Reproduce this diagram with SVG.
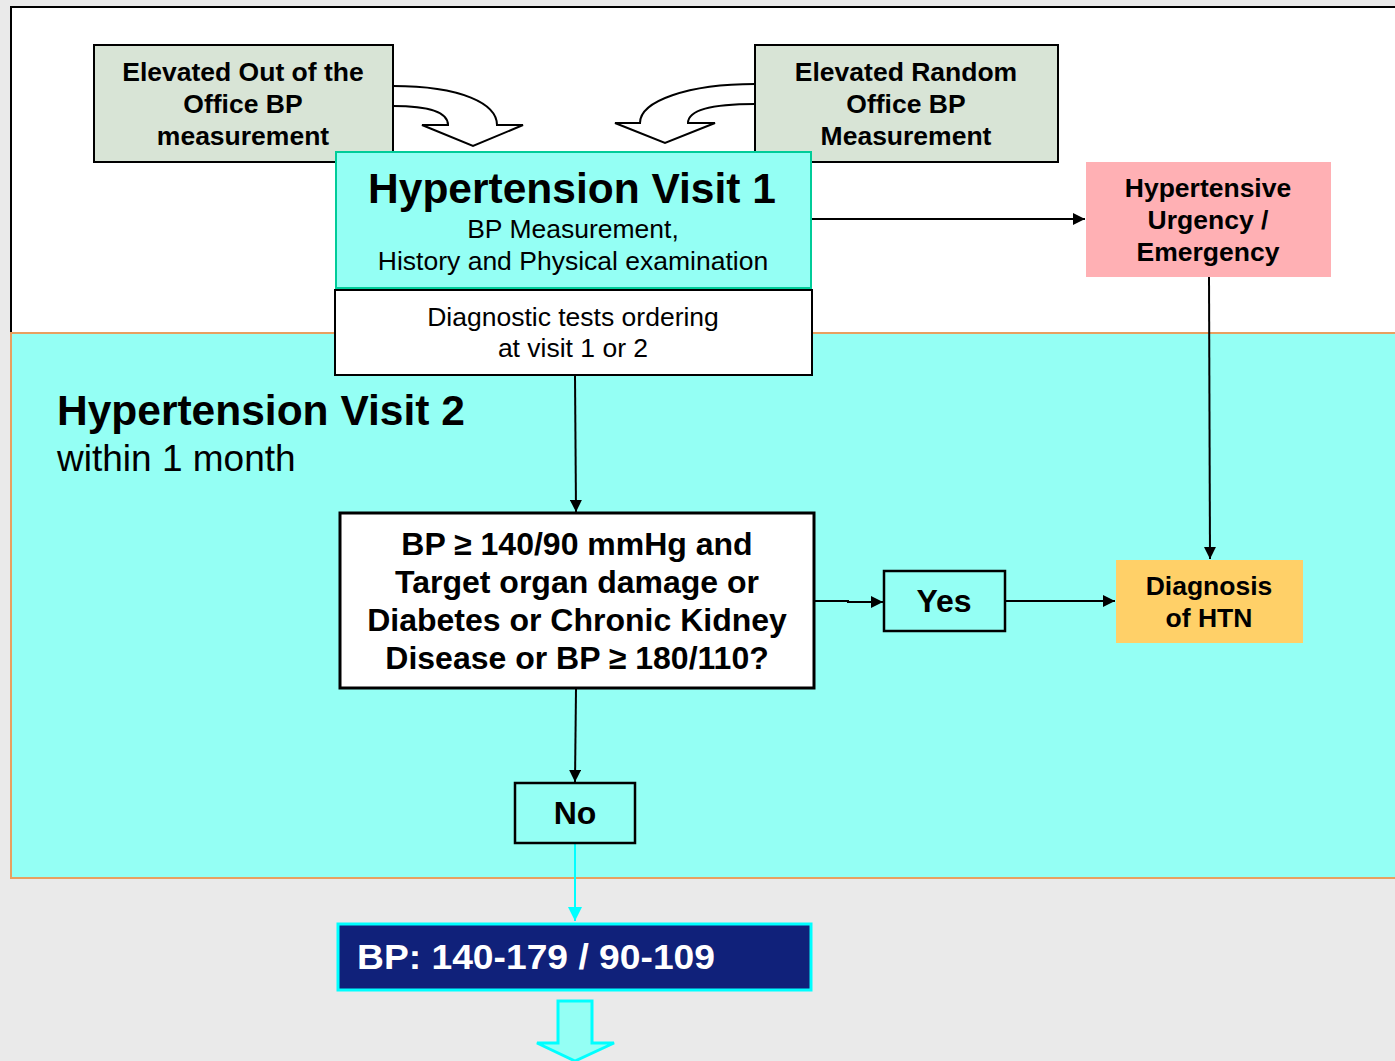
<svg xmlns="http://www.w3.org/2000/svg" width="1395" height="1061" viewBox="0 0 1395 1061">
<style>
text{font-family:"Liberation Sans",Arial,sans-serif;fill:#000}
.b{font-weight:bold}
.c{text-anchor:middle}
.s{font-size:26.5px}
.d{font-size:32px}
.box{stroke:#000;stroke-width:2}
.conn{stroke:#000;stroke-width:2;fill:none}
</style>
<defs>
<marker id="ah" viewBox="0 0 10 10" refX="10" refY="5" markerWidth="6" markerHeight="6" orient="auto" markerUnits="strokeWidth"><path d="M0,0 L10,5 L0,10 z" fill="#000"/></marker>
<marker id="ahc" viewBox="0 0 10 10" refX="10" refY="5" markerWidth="7" markerHeight="7" orient="auto" markerUnits="strokeWidth"><path d="M0,0 L10,5 L0,10 z" fill="#00ffff"/></marker>
</defs>
<rect x="0" y="0" width="1395" height="1061" fill="#eaeaea"/>
<g id="visit1-area"><rect x="11" y="7" width="1400" height="326" fill="#fff" stroke="#000" stroke-width="2"/></g>
<g id="visit2-area"><rect x="11" y="333" width="1400" height="545" fill="#94fff4" stroke="#e8a060" stroke-width="2"/>
<text class="b" x="57" y="425" font-size="42.5">Hypertension Visit 2</text>
<text x="57" y="471" font-size="37">within 1 month</text></g>

<g id="connectors">
<path d="M393,86 C462,86 497,104 497,125 L523,125 L473,146 L422,125 L448,125 C448,113 430,106 393,106" fill="#fff" stroke="#000" stroke-width="2"/>
<path d="M755,84 C688,84 640,101 640,123 L615,123 L665,143 L715,123 L688,123 C688,111 708,104 755,104" fill="#fff" stroke="#000" stroke-width="2"/>
<line class="conn" x1="811" y1="219" x2="1085" y2="219" marker-end="url(#ah)"/>
<line class="conn" x1="1209" y1="277" x2="1210" y2="559" marker-end="url(#ah)"/>
<line class="conn" x1="573" y1="287" x2="573" y2="292"/>
<line class="conn" x1="575" y1="376" x2="576" y2="512" marker-end="url(#ah)"/>
<polyline class="conn" points="815,601 848,601 848,602 883,602" marker-end="url(#ah)"/>
<line class="conn" x1="1005" y1="601" x2="1115" y2="601" marker-end="url(#ah)"/>
<line class="conn" x1="576" y1="689" x2="575" y2="782" marker-end="url(#ah)"/>
<line x1="575" y1="844" x2="575" y2="921" stroke="#00ffff" stroke-width="2" marker-end="url(#ahc)"/>
<path d="M558,1001 L592,1001 L592,1043 L614,1043 L575,1061 L537,1043 L558,1043 z" fill="#94fff4" stroke="#00ffff" stroke-width="3"/>
</g>

<g id="out-office"><rect class="box" x="94" y="45" width="299" height="117" fill="#d8e4d6"/>
<text class="b c s" x="243" y="81">Elevated Out of the</text>
<text class="b c s" x="243" y="113">Office BP</text>
<text class="b c s" x="243" y="145">measurement</text></g>

<g id="random-office"><rect class="box" x="755" y="45" width="303" height="117" fill="#d8e4d6"/>
<text class="b c s" x="906" y="81">Elevated Random</text>
<text class="b c s" x="906" y="113">Office BP</text>
<text class="b c s" x="906" y="145">Measurement</text></g>

<g id="visit1"><rect x="336" y="152" width="475" height="136" fill="#94fff4" stroke="#00cc99" stroke-width="2"/>
<text class="b c" x="572" y="203" font-size="42.5">Hypertension Visit 1</text>
<text class="c s" x="573" y="238">BP Measurement,</text>
<text class="c s" x="573" y="270">History and Physical examination</text></g>

<g id="diag-tests"><rect class="box" x="335" y="290" width="477" height="85" fill="#fff"/>
<text class="c s" x="573" y="326">Diagnostic tests ordering</text>
<text class="c s" x="573" y="357">at visit 1 or 2</text></g>

<g id="urgency"><rect x="1086" y="162" width="245" height="115" fill="#ffb0b4"/>
<text class="b c s" x="1208" y="197">Hypertensive</text>
<text class="b c s" x="1208" y="229">Urgency /</text>
<text class="b c s" x="1208" y="261">Emergency</text></g>

<g id="decision"><rect x="340" y="513" width="474" height="175" fill="#fff" stroke="#000" stroke-width="3"/>
<text class="b c d" x="577" y="555">BP ≥ 140/90 mmHg and</text>
<text class="b c d" x="577" y="593">Target organ damage or</text>
<text class="b c d" x="577" y="631">Diabetes or Chronic Kidney</text>
<text class="b c d" x="577" y="669">Disease or BP ≥ 180/110?</text></g>

<g id="yes"><rect x="884" y="571" width="121" height="60" fill="#94fff4" stroke="#000" stroke-width="2.5"/>
<text class="b c d" x="944" y="612">Yes</text></g>

<g id="diagnosis"><rect x="1116" y="560" width="187" height="83" fill="#ffd068"/>
<text class="b c s" x="1209" y="595">Diagnosis</text>
<text class="b c s" x="1209" y="627">of HTN</text></g>

<g id="no"><rect x="515" y="783" width="120" height="60" fill="#94fff4" stroke="#000" stroke-width="2.5"/>
<text class="b c d" x="575" y="824">No</text></g>

<g id="bp-range"><rect x="338" y="924" width="473" height="66" fill="#10217a" stroke="#00ffff" stroke-width="3"/>
<text class="b" x="357" y="969" font-size="35" textLength="358" lengthAdjust="spacingAndGlyphs" style="fill:#fff">BP: 140-179 / 90-109</text></g>
</svg>
